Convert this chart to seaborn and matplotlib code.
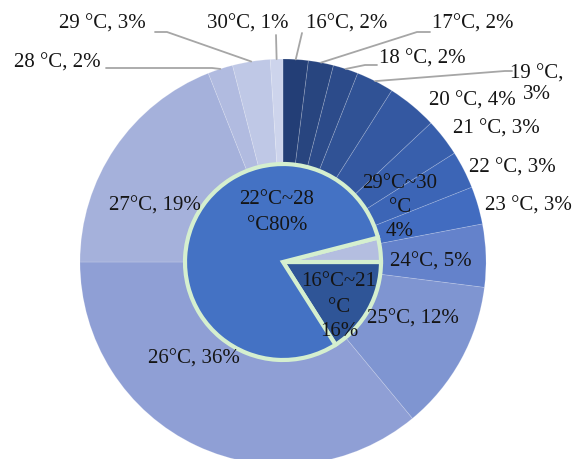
import matplotlib
matplotlib.use('Agg')
import matplotlib.pyplot as plt
import seaborn as sns
import numpy as np

# outer ring: share of each temperature setting
temps = ['16', '17', '18', '19', '20', '21', '22', '23',
         '24', '25', '26', '27', '28', '29', '30']
outer_share = [2, 2, 2, 3, 4, 3, 3, 3, 5, 12, 36, 19, 2, 3, 1]
outer_text = ['16°C, 2%', '17°C, 2%', '18 °C, 2%', '19 °C,\n3%', '20 °C, 4%',
              '21 °C, 3%', '22 °C, 3%', '23 °C, 3%', '24°C, 5%', '25°C, 12%',
              '26°C, 36%', '27°C, 19%', '28 °C, 2%', '29 °C, 3%', '30°C, 1%']

# inner pie: grouped ranges
inner_text = ['16°C~21\n°C\n16%', '29°C~30\n°C\n4%', '22°C~28\n°C80%']
inner_share = [16, 4, 80]

sns.set_theme(style='white')
plt.rcParams['font.family'] = ['Liberation Serif', 'DejaVu Serif']

outer_colors = ['#233E76', '#28457F', '#2C4B8A', '#305295', '#3458A1',
                '#385FAC', '#3C65B6', '#426CC0', '#6482CB', '#7F95D1',
                '#8F9FD5', '#A5B1DB', '#B1BBE0', '#BFC8E6', '#CDD4EC']
inner_colors = ['#2F5597', '#B4BEE0', '#4472C4']

W, H = 572, 459
fig = plt.figure(figsize=(W / 100, H / 100), dpi=100)
ax = fig.add_axes([0, 0, 1, 1])

cx, cy = 283, H - 262
r_out, r_in = 203, 98

outer, _ = ax.pie(outer_share, startangle=90, counterclock=False,
                  colors=outer_colors, center=(cx, cy), radius=r_out,
                  wedgeprops=dict(edgecolor=(1, 1, 1, 0.18), linewidth=0.6))
inner, _ = ax.pie(inner_share, startangle=-3.6 * inner_share[0],
                  counterclock=True, colors=inner_colors,
                  center=(cx, cy), radius=r_in,
                  wedgeprops=dict(edgecolor='#D5EFCF', linewidth=3))

# label positions in image pixels (x, y from top)
outer_pos = {0: (347, 24), 1: (473, 24), 2: (422, 59), 3: (537, 84),
             4: (472, 101), 5: (496, 129), 6: (512, 168), 7: (528, 206),
             8: (431, 262), 9: (413, 319), 10: (194, 359), 11: (155, 206),
             12: (57, 63), 13: (102, 24), 14: (248, 24)}
leaders = {0: [(302, 33)],
           1: [(430, 32), (417, 32)],
           2: [(377, 65), (365, 65)],
           3: [(512, 71), (505, 71)],
           12: [(106, 68), (212, 68)],
           13: [(155, 32), (167, 32)],
           14: [(276, 35)]}
# first line position and line step for the inner labels
inner_pos = [(339, 282, 25), (400, 183, 24), (277, 200, 25)]

txt = '#151515'
fs = 15

for i, label in enumerate(outer_text):
    x, y = outer_pos[i]
    ax.text(x, H - y, label, ha='center', va='center', fontsize=fs,
            color=txt, linespacing=1.1, zorder=5)

for i, pts in leaders.items():
    w = outer[i]
    ang = np.deg2rad((w.theta1 + w.theta2) / 2)
    xs = [p[0] for p in pts] + [cx + r_out * np.cos(ang)]
    ys = [H - p[1] for p in pts] + [cy + r_out * np.sin(ang)]
    ax.plot(xs, ys, color='#A6A6A6', lw=1.3, zorder=4)

for label, (x, y, step) in zip(inner_text, inner_pos):
    for k, line in enumerate(label.split('\n')):
        ax.text(x, H - y - k * step, line, ha='center', va='center',
                fontsize=fs, color=txt, zorder=5)

ax.set_xlim(0, W)
ax.set_ylim(0, H)
ax.set_aspect('equal')
ax.axis('off')

fig.savefig('out.png', dpi=100)
